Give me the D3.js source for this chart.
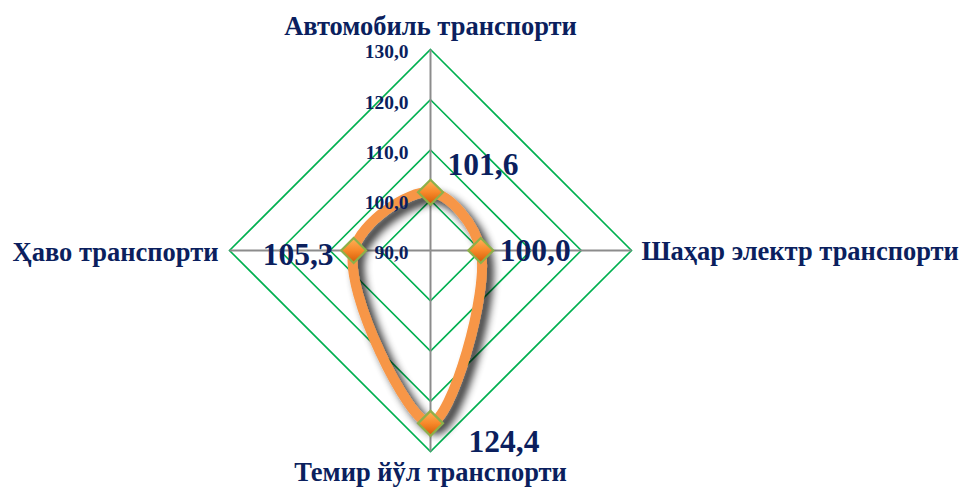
<!DOCTYPE html>
<html><head><meta charset="utf-8">
<script src="https://cdn.jsdelivr.net/npm/d3@7"></script>
<style>body{margin:0;background:#fff}</style>
</head><body>
<svg id="c" width="960" height="490"></svg>
<script>
const categories = ["Автомобиль транспорти","Шаҳар электр транспорти","Темир йўл транспорти","Ҳаво транспорти"];
const values = [101.6, 100.0, 124.4, 105.3];
const valueLabels = ["101,6","100,0","124,4","105,3"];
const ticks = [90,100,110,120,130];
const tickLabels = ["90,0","100,0","110,0","120,0","130,0"];

const svg = d3.select("#c");
const cx = 430.5, cy = 250.5, R = 201;
const r = d3.scaleLinear().domain([90,130]).range([0,R]);
const ang = d3.scaleBand().domain(categories).range([0, 2*Math.PI]);
const a = c => ang(c) - Math.PI/2;
const pt = (c,v) => [cx + r(v)*Math.cos(a(c)), cy + r(v)*Math.sin(a(c))];
const NAVY = "#0B1F5E";
const FONT = "Liberation Serif, 'Times New Roman', serif";

const defs = svg.append("defs");
const f = defs.append("filter").attr("id","sh").attr("x","-30%").attr("y","-30%").attr("width","160%").attr("height","160%");
f.append("feGaussianBlur").attr("in","SourceAlpha").attr("stdDeviation",4.5).attr("result","b");
f.append("feOffset").attr("in","b").attr("dx",6).attr("dy",6).attr("result","o");
f.append("feComponentTransfer").attr("in","o").attr("result","o2").append("feFuncA").attr("type","linear").attr("slope",0.85);
const fm = f.append("feMerge"); fm.append("feMergeNode").attr("in","o2"); fm.append("feMergeNode").attr("in","SourceGraphic");
const g1 = defs.append("linearGradient").attr("id","mg").attr("x1",0).attr("y1",0).attr("x2",0).attr("y2",1);
g1.append("stop").attr("offset","0%").attr("stop-color","#FFB45A");
g1.append("stop").attr("offset","50%").attr("stop-color","#F7892A");
g1.append("stop").attr("offset","100%").attr("stop-color","#D45A05");

// grid rings
ticks.filter(t=>t>90).forEach(t=>{
  svg.append("path")
    .attr("d", d3.line()(categories.map(c=>pt(c,t))) + "Z")
    .attr("fill","none").attr("stroke","#00B050").attr("stroke-width",1.6);
});
// axes
categories.forEach(c=>{
  const p = pt(c,130);
  svg.append("line").attr("x1",cx).attr("y1",cy).attr("x2",p[0]).attr("y2",p[1])
    .attr("stroke","#8C8C8C").attr("stroke-width",2);
});
// series line
const line = d3.line().curve(d3.curveCatmullRomClosed.alpha(0.5));
svg.append("path").attr("d", line(categories.map((c,i)=>pt(c,values[i]))))
  .attr("fill","none").attr("stroke","#F79646").attr("stroke-width",10).attr("filter","url(#sh)");
// markers
categories.forEach((c,i)=>{
  const [x,y] = pt(c,values[i]);
  const s = 12.5;
  svg.append("path").attr("d",`M${x},${y-s}L${x+s},${y}L${x},${y+s}L${x-s},${y}Z`)
    .attr("fill","url(#mg)").attr("stroke","#8DB04A").attr("stroke-width",2.2);
});
// tick labels (drawn over the series)
ticks.forEach((t,i)=>{
  svg.append("text").attr("x",cx-22).attr("y",cy - r(t) + 2).attr("dy","0.35em")
    .attr("text-anchor","end").attr("font-family",FONT)
    .attr("font-weight","bold").attr("font-size",19.5).attr("fill",NAVY).text(tickLabels[i]);
});
// value labels
const vOff = [[17,-28,"start"],[19,-1,"start"],[38,18,"start"],[-20,3,"end"]];
categories.forEach((c,i)=>{
  const [x,y] = pt(c,values[i]);
  svg.append("text").attr("x",x+vOff[i][0]).attr("y",y+vOff[i][1]).attr("dy","0.35em")
    .attr("text-anchor",vOff[i][2]).attr("font-family",FONT)
    .attr("font-weight","bold").attr("font-size",31.5).attr("fill",NAVY).text(valueLabels[i]);
});
// category labels
const cPos = [[0,-225,"middle"],[211,0,"start"],[0,221,"middle"],[-212,1,"end"]];
categories.forEach((c,i)=>{
  svg.append("text").attr("x",cx+cPos[i][0]).attr("y",cy+cPos[i][1]).attr("dy","0.35em")
    .attr("text-anchor",cPos[i][2]).attr("font-family",FONT)
    .attr("font-weight","bold").attr("font-size",26.5).attr("fill",NAVY).text(c);
});
</script>
</body></html>
